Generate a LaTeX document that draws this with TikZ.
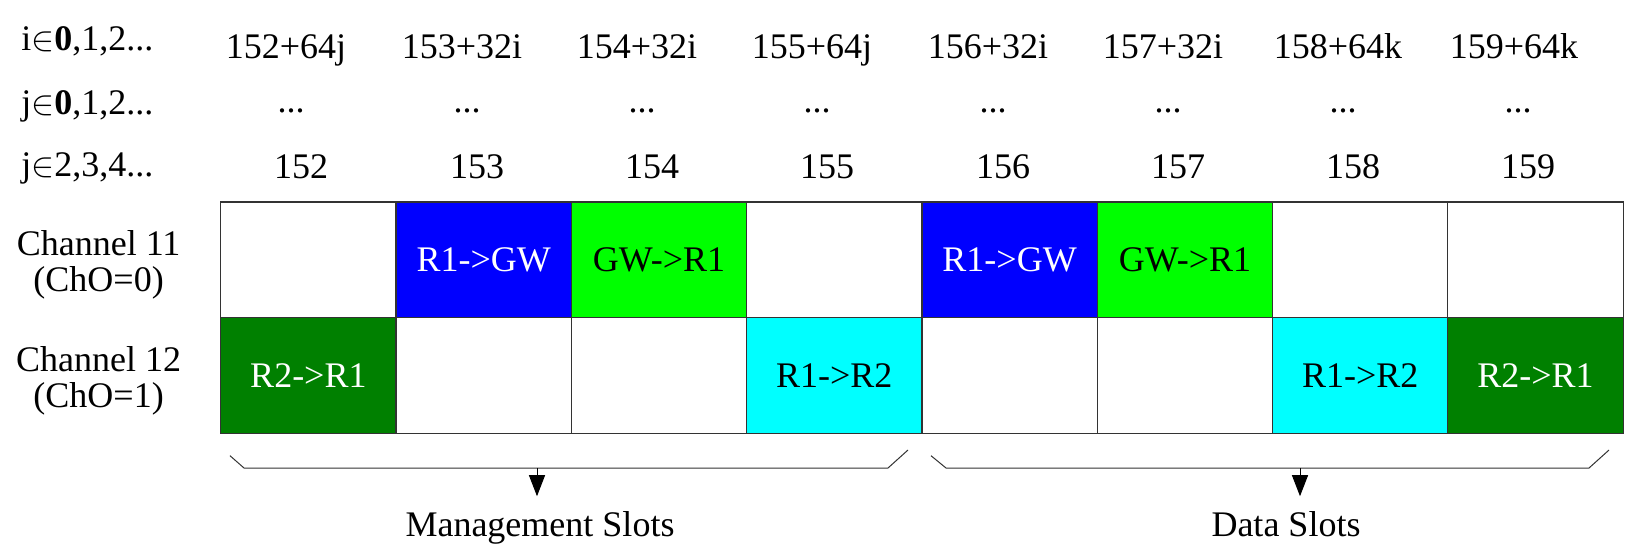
\documentclass[tikz,border=0pt]{standalone}
\usepackage{fontspec}
\setmainfont{Liberation Serif}
\usetikzlibrary{arrows.meta, positioning}
\definecolor{mgmtblue}{HTML}{0000FF}
\definecolor{lightgreen}{HTML}{00FF00}
\definecolor{darkgreen}{HTML}{008000}
\definecolor{cyanslot}{HTML}{00FFFF}
\newcommand{\slotfont}{\fontsize{18}{18.25}\selectfont}

\begin{document}
\begin{tikzpicture}[
  x=0.5pt, y=-0.5pt,
  node distance=0pt,
  cell/.style={rectangle, draw=black!80, line width=0.6pt, minimum width=87.65pt, minimum height=57.9pt, inner sep=0pt, outer sep=0pt, font=\slotfont},
  rgw/.style={cell, fill=mgmtblue, text=white},
  gwr/.style={cell, fill=lightgreen},
  rtwo/.style={cell, fill=darkgreen, text=white},
  rone/.style={cell, fill=cyanslot},
  txt/.style={inner sep=0pt, font=\slotfont, anchor=base},
  rowlbl/.style={txt, anchor=base west},
  brace/.style={line width=0.5pt, draw=black!80},
  arrow/.style={-{Triangle[length=10.5pt, width=8pt]}, line width=0.5pt}
]
  \useasboundingbox (0,0) rectangle (1627,547);

  % slot indices
  \node[rowlbl] (irow) at (21,50) {i$\in$\textbf{0},1,2...};
  \node[rowlbl] (jrow) at (21,114) {j$\in$\textbf{0},1,2...};
  \node[rowlbl] (krow) at (21,176) {j$\in$2,3,4...};

  \node[txt] (top152) at (286,58) {152+64j};
  \node[txt] (top153) at (462,58) {153+32i};
  \node[txt] (top154) at (637,58) {154+32i};
  \node[txt] (top155) at (812,58) {155+64j};
  \node[txt] (top156) at (988,58) {156+32i};
  \node[txt] (top157) at (1163,58) {157+32i};
  \node[txt] (top158) at (1338,58) {158+64k};
  \node[txt] (top159) at (1514,58) {159+64k};

  \node[txt] (dots152) at (291,112) {...};
  \node[txt] (dots153) at (467,112) {...};
  \node[txt] (dots154) at (642,112) {...};
  \node[txt] (dots155) at (817,112) {...};
  \node[txt] (dots156) at (993,112) {...};
  \node[txt] (dots157) at (1168,112) {...};
  \node[txt] (dots158) at (1343,112) {...};
  \node[txt] (dots159) at (1518,112) {...};

  \node[txt] (num152) at (301,178) {152};
  \node[txt] (num153) at (477,178) {153};
  \node[txt] (num154) at (652,178) {154};
  \node[txt] (num155) at (827,178) {155};
  \node[txt] (num156) at (1003,178) {156};
  \node[txt] (num157) at (1178,178) {157};
  \node[txt] (num158) at (1353,178) {158};
  \node[txt] (num159) at (1528,178) {159};

  % channels
  \node[align=center, inner sep=0pt, font=\slotfont] (ch11) at (98.6,265) {Channel 11\\(ChO=0)};
  \node[align=center, inner sep=0pt, font=\slotfont] (ch12) at (98.6,381) {Channel 12\\(ChO=1)};

  \node[cell] (a1) at (308.4,259.9) {};
  \node[rgw, right=of a1] (a2) {R1->GW};
  \node[gwr, right=of a2] (a3) {GW->R1};
  \node[cell, right=of a3] (a4) {};
  \node[rgw, right=of a4] (a5) {R1->GW};
  \node[gwr, right=of a5] (a6) {GW->R1};
  \node[cell, right=of a6] (a7) {};
  \node[cell, right=of a7] (a8) {};

  \node[rtwo, below=of a1] (b1) {R2->R1};
  \node[cell, right=of b1] (b2) {};
  \node[cell, right=of b2] (b3) {};
  \node[rone, right=of b3] (b4) {R1->R2};
  \node[cell, right=of b4] (b5) {};
  \node[cell, right=of b5] (b6) {};
  \node[rone, right=of b6] (b7) {R1->R2};
  \node[rtwo, right=of b7] (b8) {R2->R1};

  % slot groups
  \node[txt] (mgmt) at (540,536) {Management Slots};
  \node[txt] (data) at (1286,536) {Data Slots};
  \coordinate (mb) at (537,468);
  \coordinate (db) at (1300,468);

  \draw[brace] (230,455.7) -- (244,468) -- (888,468) -- (908,450);
  \draw[brace] (931,455.7) -- (946,468) -- (1589,468) -- (1609,450);
  \draw[arrow, shorten >=7.2pt] (mb) -- (mb |- mgmt.north);
  \draw[arrow, shorten >=7.2pt] (db) -- (db |- data.north);
\end{tikzpicture}
\end{document}
